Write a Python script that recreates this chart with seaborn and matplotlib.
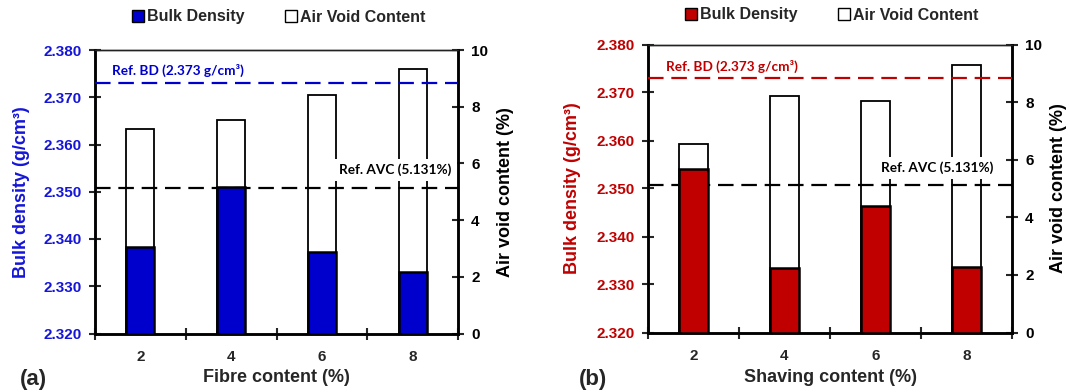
import matplotlib
matplotlib.use("Agg")
import matplotlib.pyplot as plt
from matplotlib.lines import Line2D
from matplotlib.ticker import FormatStrFormatter, MultipleLocator, FixedLocator
import seaborn as sns
import pandas as pd

categories = ["2", "4", "6", "8"]
fibre_bd = [2.3384, 2.3509, 2.3372, 2.3331]
fibre_avc = [7.20, 7.53, 8.41, 9.32]
shaving_bd = [2.3540, 2.3335, 2.3463, 2.3336]
shaving_avc = [6.55, 8.20, 8.03, 9.28]
ref_bd = 2.373
ref_avc = 5.131
panel_letters = ["(a)", "(b)"]
x_titles = ["Fibre content (%)", "Shaving content (%)"]

sns.set_style("white")
plt.rcParams["font.family"] = ["Liberation Sans", "DejaVu Sans"]

W, H = 1070, 392
fig = plt.figure(figsize=(W / 100, H / 100), dpi=100)

panels = [
    dict(box=(95, 458, 50, 333.5), bd=fibre_bd, avc=fibre_avc, color="#0000CC", tcol="#1515D8",
         bdtxt=(0.047, 0.927), avctxt=(0.983, 0.577), leg=(279, 17), letter=(33, 379),
         ylab_l=-0.179, ylab_r=1.108),
    dict(box=(648, 1012, 44.5, 332.5), bd=shaving_bd, avc=shaving_avc, color="#C00000", tcol="#C00000",
         bdtxt=(0.049, 0.925), avctxt=(0.948, 0.571), leg=(832, 15), letter=(593, 379),
         ylab_l=-0.184, ylab_r=1.104),
]

dash = (0, (7, 3.5))
for i, p in enumerate(panels):
    l, r, t, b = p["box"]
    ax1 = fig.add_axes([l / W, 1 - b / H, (r - l) / W, (b - t) / H])
    ax2 = ax1.twinx()
    ax1.set_zorder(ax2.get_zorder() + 1)
    ax1.patch.set_visible(False)

    df = pd.DataFrame({"cat": categories, "bd": p["bd"], "avc": p["avc"]})
    sns.barplot(data=df, x="cat", y="avc", ax=ax2, color="white", edgecolor="black",
                linewidth=1.3, width=0.31, saturation=1, errorbar=None, order=categories)
    sns.barplot(data=df, x="cat", y="bd", ax=ax1, color=p["color"], edgecolor="black",
                linewidth=1.8, width=0.31, saturation=1, errorbar=None, order=categories)

    ax1.set_ylim(2.320, 2.380)
    ax2.set_ylim(0, 10)
    ax1.set_xlim(-0.5, 3.5)

    ax1.axhline(ref_bd, color=p["color"], ls=dash, lw=1.6, zorder=5)
    ax2.axhline(ref_avc, color="black", ls=dash, lw=1.6, zorder=5)

    ax1.text(p["bdtxt"][0], p["bdtxt"][1], "Ref. BD (2.373 g/cm³)", transform=ax1.transAxes,
             ha="left", va="center", color=p["color"], fontsize=9.8,
             family=["Lato", "DejaVu Sans"], fontweight="bold", zorder=6)
    ax2.text(p["avctxt"][0], p["avctxt"][1], "Ref. AVC (5.131%)", transform=ax2.transAxes,
             ha="right", va="center", color="black", fontsize=9.8,
             family=["Lato", "DejaVu Sans"], fontweight="bold", zorder=6,
             bbox=dict(facecolor="white", edgecolor="none", pad=3.5))

    # ticks
    ax1.yaxis.set_major_locator(MultipleLocator(0.010))
    ax1.yaxis.set_major_formatter(FormatStrFormatter("%.3f"))
    ax2.yaxis.set_major_locator(MultipleLocator(2))
    ax1.tick_params(axis="y", direction="inout", length=9, width=1.5, pad=5,
                    labelsize=11, labelcolor=p["tcol"], left=True)
    ax2.tick_params(axis="y", direction="inout", length=9, width=1.5, pad=5,
                    labelsize=11, labelcolor="black", right=True)
    for lab in ax1.get_yticklabels() + ax2.get_yticklabels():
        lab.set_fontweight("bold")

    ax1.xaxis.set_major_locator(FixedLocator([0, 1, 2, 3]))
    ax1.set_xticklabels(categories, fontsize=11, fontweight="bold")
    ax1.xaxis.set_minor_locator(FixedLocator([-0.5, 0.5, 1.5, 2.5, 3.5]))
    ax1.tick_params(axis="x", which="major", length=0, pad=12)
    ax1.tick_params(axis="x", which="minor", direction="inout", length=9, width=1.5, bottom=True)
    ax2.tick_params(axis="x", which="both", length=0)
    ax2.set_xlabel("")

    ax1.set_xlabel(x_titles[i], fontsize=13, fontweight="bold")
    ax1.xaxis.set_label_coords(0.5, -0.125)
    ax1.set_ylabel("Bulk density (g/cm³)", fontsize=13, fontweight="bold", color=p["tcol"])
    ax1.yaxis.set_label_coords(p["ylab_l"], 0.5)
    ax2.set_ylabel("Air void content (%)", fontsize=13, fontweight="bold", color="black")
    ax2.yaxis.set_label_coords(p["ylab_r"], 0.5)

    for ax in (ax1, ax2):
        for s in ("left", "right", "bottom"):
            ax.spines[s].set_linewidth(1.8)
            ax.spines[s].set_color("black")
        ax.spines["top"].set_linewidth(1.0)
        ax.spines["top"].set_color("#222222")

    handles = [
        Line2D([], [], marker="s", linestyle="none", markersize=8, markerfacecolor=p["color"],
               markeredgecolor="black", markeredgewidth=1.0, label="Bulk Density"),
        Line2D([], [], marker="s", linestyle="none", markersize=8, markerfacecolor="white",
               markeredgecolor="black", markeredgewidth=1.0, label="Air Void Content"),
    ]
    fig.legend(handles=handles, loc="center", bbox_to_anchor=(p["leg"][0] / W, 1 - p["leg"][1] / H),
               ncol=2, frameon=False, handlelength=0.7, handletextpad=0.2, columnspacing=2.6,
               prop=dict(size=11.5, weight="bold"))

    fig.text(p["letter"][0] / W, 1 - p["letter"][1] / H, panel_letters[i], ha="center", va="center",
             fontsize=16, fontweight="bold")

fig.savefig("out.png", dpi=100)
